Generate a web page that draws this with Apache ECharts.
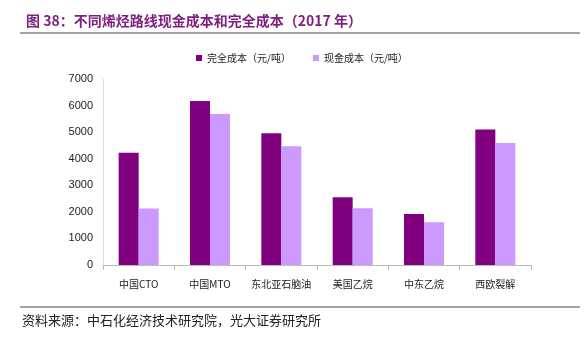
<!DOCTYPE html>
<html><head><meta charset="utf-8">
<script src="https://cdn.jsdelivr.net/npm/echarts@6/dist/echarts.min.js"></script>
<style>html,body{margin:0;padding:0;background:#fff}#c{width:586px;height:338px}</style>
</head><body><div id="c"></div>
<script>
const categories = ['中国CTO','中国MTO','东北亚石脑油','美国乙烷','中东乙烷','西欧裂解'];
const fullCost = [4220, 6170, 4960, 2550, 1920, 5100];
const cashCost = [2130, 5680, 4470, 2140, 1610, 4590];
const seriesNames = ['完全成本（元/吨）','现金成本（元/吨）'];
const yTicks = [0,1000,2000,3000,4000,5000,6000,7000];

const chart = echarts.init(document.getElementById('c'));
const cjk = '"Noto Sans CJK SC", sans-serif';
chart.setOption({
  animation:false,
  title:{text:'图 38：不同烯烃路线现金成本和完全成本（2017 年）',left:21,top:9,
    textStyle:{color:'#7f2080',fontSize:14,fontWeight:'bold',fontFamily:cjk}},
  graphic:[
    {type:'line',shape:{x1:20,y1:33,x2:580,y2:33},style:{stroke:'#444',lineWidth:1}},
    {type:'line',shape:{x1:20,y1:307,x2:580,y2:307},style:{stroke:'#444',lineWidth:1}},
    {type:'text',left:22,top:314,style:{text:'资料来源：中石化经济技术研究院，光大证券研究所',fill:'#222',font:'13px '+cjk}}
  ],
  legend:{top:48,left:191,itemWidth:6,itemHeight:6,itemGap:22,icon:'rect',
    textStyle:{fontSize:10,color:'#222',fontFamily:cjk},data:seriesNames},
  grid:{left:103,right:55,top:79,bottom:73},
  xAxis:{type:'category',data:categories,
    axisLine:{lineStyle:{color:'#bbb'}},axisTick:{show:true,lineStyle:{color:'#bbb'}},
    axisLabel:{fontSize:10,color:'#222',margin:14,interval:0,fontFamily:cjk}},
  yAxis:{type:'value',min:0,max:7000,interval:1000,
    axisLine:{show:true,lineStyle:{color:'#ddd'}},axisTick:{show:false},splitLine:{show:false},
    axisLabel:{fontSize:11,color:'#222',margin:10,fontFamily:'Liberation Sans, Arial',
      formatter:v=>yTicks.includes(v)?String(v):''}},
  series:[
    {name:seriesNames[0],type:'bar',data:fullCost,barWidth:20,barGap:'0%',itemStyle:{color:'#800080'}},
    {name:seriesNames[1],type:'bar',data:cashCost,barWidth:20,barGap:'0%',itemStyle:{color:'#CC99FF'}}
  ]
});
</script></body></html>
